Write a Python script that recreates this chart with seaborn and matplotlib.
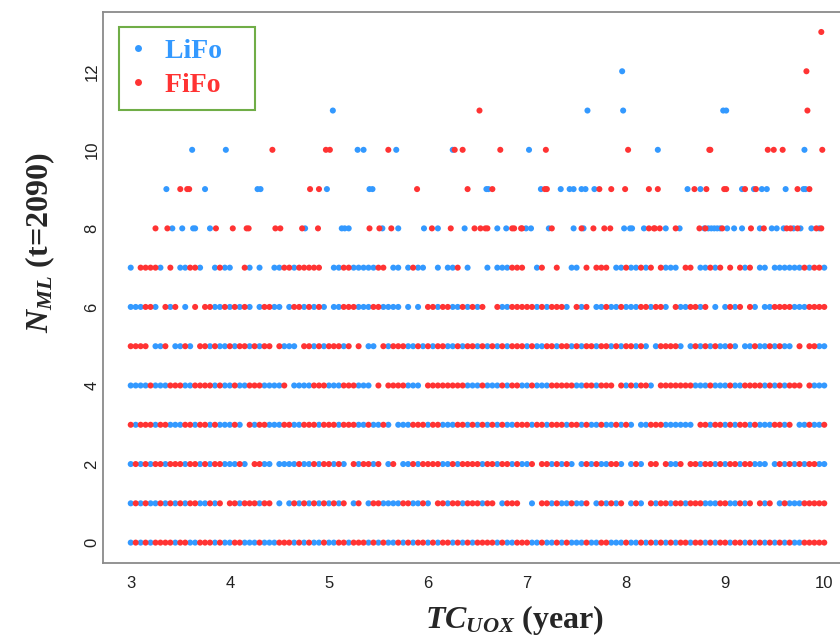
import matplotlib
matplotlib.use("Agg")
import matplotlib.pyplot as plt
from matplotlib.lines import Line2D
from matplotlib.font_manager import FontProperties
import pandas as pd
import seaborn as sns

# ---------------------------------------------------------------- data
# Dense levels 0..7: one character per 0.05-year slot from 3.00 to 10.00
# 'b' = LiFo point visible, 'r' = FiFo point visible, '.' = no point
X_START = 3.0
X_STEP = 0.05

ROW_0 = ("brbrbrrrrb" "rrbbrrrbrb" "brrbbbrbbb" "rrrbrbrbbr" "bbrrbrrrbr" "brbbrbrbrr" "brbrrbrbrb"
         "rrrrbrbbrr" "rbbrbbrbrb" "bbrbbrrbbb" "rbbrbrbrbr" "brrbrrbrbr" "rbrrbrbrbr" "brbrbbrrrr" "r")
ROW_1 = ("brbrbbrbrb" "rbrrbbrbr." "rrbrrrbrr." "b.brbrbrbr" "brbr.br.br" "rbbbbrrbbr" "b.rrbrrbrr"
         "rbrr.brrr." ".b.rrbrbbr" "bbr.brbrbr" ".brb.rbrrb" "rrbrrrbbbr" "rbbrbr.rbr" ".brbbbrrrr" "r")
ROW_2 = ("brbrbrrbrr" "rbrrbrbrrb" "bbrb.rrbb." "bbbbrbbrbr" "rbrb.rbrrb" "r.br.bbrbr" "rrrbbrbrrr"
         "rbrrbrrbrb" "br.rrbrbrb" ".brbrbbrrb" ".brb.rr.rb" "br.rrbrrbr" "brrbrrbbb." "brbrbrbrrb" "b")
ROW_3 = ("rbrrrbrrbb" "brrbrrbrbb" "brb.rbrrbb" "brrbbrrrbr" "rrbrrrbbrb" "brb.bbbrrr" "brrbbbrrbr"
         "brbrbrbbrr" "rbrrbrrrbr" "rbrbbrbbrb" "rb.bbrrrbb" "bbbb.rrbrr" "brbrrbrbbb" "rrbr.bbrbb" "r")
ROW_4 = ("bbbbrbbbrr" "rbbrrrrbrb" "brbbrrrbbb" "br.bbbbrrr" "bbbrrrbbb." "r.rrrrbbb." "rrrrrrrrbb"
         "brbbbrbrrb" "brbbbrrrrr" "bbrrbrrr.r" "brbrrb.rrr" "rrrrbbbrbb" "brbbrrrrbr" "brbrrr.rbb" "b")
ROW_5 = ("rrrr.bbr.b" "brb.rrbrbb" "rbrrbrbrr." "rbbb.rrbrb" "rrrbr.r.bb" ".rbrrrbbrb" "rbrrbbrbrr"
         "brbrbrbrrr" "brbbrrbrrb" "rbrrbrrbrb" "rrbrb.brrr" "rb.brbrbrb" "brb.bbrbbr" "brbb.r.rrb" "b")
ROW_6 = ("bbbrrb.rbr" ".b.r.rrbbr" "brbrb.brrb" "b.brrbrbrb" ".bbrrrbbbr" "rbbbb.b.b." "rrbrrbbrbr"
         "br..rbbrrr" "rrbrbrrrb." "rbr.bbrbbr" "bbbrrbrrb." "rbbrrbr.b." "brbr.rb.bb" "rrrrbbbrrr" "r")
ROW_7 = ("b.rrrrb.r." "bbrrb..brb" "b..rb.b..b" "brrbrrrrr." ".bbrrbbbbb" "rr.bb.brbb" "..b.bbr.b."
         "..b.bbbrrr" "..br..r..b" "b.r.rrr.bb" "rbbrbr.rbb" "b.rr.bbrbr" ".r.rbr.bb." "bbbbbbrbrr" "b")
DENSE_ROWS = [ROW_0, ROW_1, ROW_2, ROW_3, ROW_4, ROW_5, ROW_6, ROW_7]

# Sparse levels 8..13 (TC_UOX values)
LIFO_N8 = [3.42, 3.52, 3.63, 3.65, 3.80, 4.76, 5.13, 5.16, 5.20, 5.54, 5.70, 5.96, 6.10, 6.37,
           6.70, 6.79, 6.99, 7.04, 7.22, 7.47, 7.57, 7.98, 8.04, 8.06, 8.18, 8.40, 8.54, 8.79,
           8.83, 8.86, 8.89, 8.92, 8.95, 9.02, 9.09, 9.17, 9.35, 9.47, 9.52, 9.59, 9.69, 9.76,
           9.87, 9.95]
FIFO_N8 = [3.25, 3.37, 3.86, 4.03, 4.17, 4.19, 4.46, 4.51, 4.73, 4.89, 5.41, 5.51, 5.63, 6.04,
           6.23, 6.47, 6.53, 6.58, 6.60, 6.85, 6.87, 6.94, 6.95, 7.25, 7.55, 7.67, 7.78, 7.84,
           8.23, 8.28, 8.29, 8.34, 8.50, 8.74, 8.80, 8.97, 9.26, 9.39, 9.62, 9.66, 9.73, 9.92,
           9.97]
LIFO_N9 = [3.36, 3.75, 4.28, 4.31, 4.98, 5.41, 5.44, 6.59, 6.61, 7.14, 7.34, 7.43, 7.47, 7.55,
           7.59, 7.68, 8.62, 8.75, 9.17, 9.29, 9.37, 9.42, 9.61, 9.79, 9.81]
FIFO_N9 = [3.50, 3.57, 3.59, 4.81, 4.90, 5.89, 6.40, 6.65, 7.18, 7.20, 7.73, 7.85, 7.99, 8.23,
           8.32, 8.69, 8.81, 8.99, 9.01, 9.20, 9.31, 9.73, 9.85]
LIFO_N10 = [3.62, 3.96, 5.29, 5.35, 5.68, 6.25, 7.02, 8.32, 9.80]
FIFO_N10 = [4.43, 4.97, 5.01, 5.60, 6.27, 6.35, 6.73, 7.19, 8.02, 8.84, 8.85, 9.43, 9.49, 9.58, 9.98]
LIFO_N11 = [5.04, 7.61, 7.97, 8.98, 9.01]
FIFO_N11 = [6.52, 9.83]
LIFO_N12 = [7.96]
FIFO_N12 = [9.82]
LIFO_N13 = []
FIFO_N13 = [9.97]

SERIES = ["LiFo", "FiFo"]
X_TICKS = [3, 4, 5, 6, 7, 8, 9, 10]
Y_TICKS = [0, 2, 4, 6, 8, 10, 12]

# ---------------------------------------------------------------- table
recs = []
for level, row in enumerate(DENSE_ROWS):
    for i, c in enumerate(row):
        if c == "b":
            recs.append((X_START + i * X_STEP, level, "LiFo"))
for level, row in enumerate(DENSE_ROWS):
    for i, c in enumerate(row):
        if c == "r":
            recs.append((X_START + i * X_STEP, level, "FiFo"))
sparse = {8: (LIFO_N8, FIFO_N8), 9: (LIFO_N9, FIFO_N9), 10: (LIFO_N10, FIFO_N10),
          11: (LIFO_N11, FIFO_N11), 12: (LIFO_N12, FIFO_N12), 13: (LIFO_N13, FIFO_N13)}
for level, (lx, fx) in sparse.items():
    recs += [(x, level, "LiFo") for x in lx]
for level, (lx, fx) in sparse.items():
    recs += [(x, level, "FiFo") for x in fx]
df = pd.DataFrame(recs, columns=["TC", "N", "Policy"])

# ---------------------------------------------------------------- style
sns.set_style("white")
plt.rcParams["font.family"] = ["Liberation Sans", "DejaVu Sans"]
plt.rcParams["mathtext.fontset"] = "custom"
plt.rcParams["mathtext.it"] = "Liberation Serif:italic:bold"
plt.rcParams["mathtext.rm"] = "Liberation Serif:bold"
plt.rcParams["mathtext.bf"] = "Liberation Serif:bold"

BLUE = "#3399ff"
RED = "#ff3333"
palette = {"LiFo": BLUE, "FiFo": RED}

fig = plt.figure(figsize=(8.4, 6.42), dpi=100)
ax = fig.add_axes([0.1226, 0.123, 0.8917, 0.859])

sns.scatterplot(data=df, x="TC", y="N", hue="Policy", palette=palette, s=19,
                linewidth=0, legend=False, ax=ax)

ax.set_xlim(2.72, 10.28)
ax.set_ylim(-0.52, 13.52)
ax.set_xticks(X_TICKS)
ax.set_yticks(Y_TICKS)
ax.tick_params(axis="both", direction="out", length=6, width=1.0, color="#666666",
               labelsize=12, labelcolor="#222222")
ax.tick_params(axis="x", pad=3)
ax.tick_params(axis="y", pad=-3.5)
for lab in ax.get_yticklabels():
    lab.set_rotation(90)
    lab.set_va("center")
for sp in ax.spines.values():
    sp.set_color("#8a8a8a")
    sp.set_linewidth(1.3)

lab_font = dict(family="Liberation Serif", weight="bold", size=23)
ax.set_xlabel(r"$TC_{UOX}$ (year)", **lab_font)
ax.set_ylabel(r"$N_{ML}$ (t=2090)", **lab_font)
ax.xaxis.set_label_coords(0.549, -0.072)
ax.yaxis.set_label_coords(-0.062, 0.58)

handles = [Line2D([], [], ls="none", marker="o", ms=5, color=palette[s], mec="none")
           for s in SERIES]
leg = ax.legend(handles, ["LiFo   ", "FiFo   "], loc="upper left",
                bbox_to_anchor=(0.0214, 0.972), borderaxespad=0,
                prop=FontProperties(family="Liberation Serif", weight="bold", size=20),
                frameon=True, fancybox=False, edgecolor="#70ad47", framealpha=1,
                borderpad=0.42, labelspacing=0.3, handlelength=0.5, handletextpad=0.75)
leg.get_frame().set_linewidth(1.5)
for t, s in zip(leg.get_texts(), SERIES):
    t.set_color(palette[s])

fig.savefig("out.png", dpi=100)
